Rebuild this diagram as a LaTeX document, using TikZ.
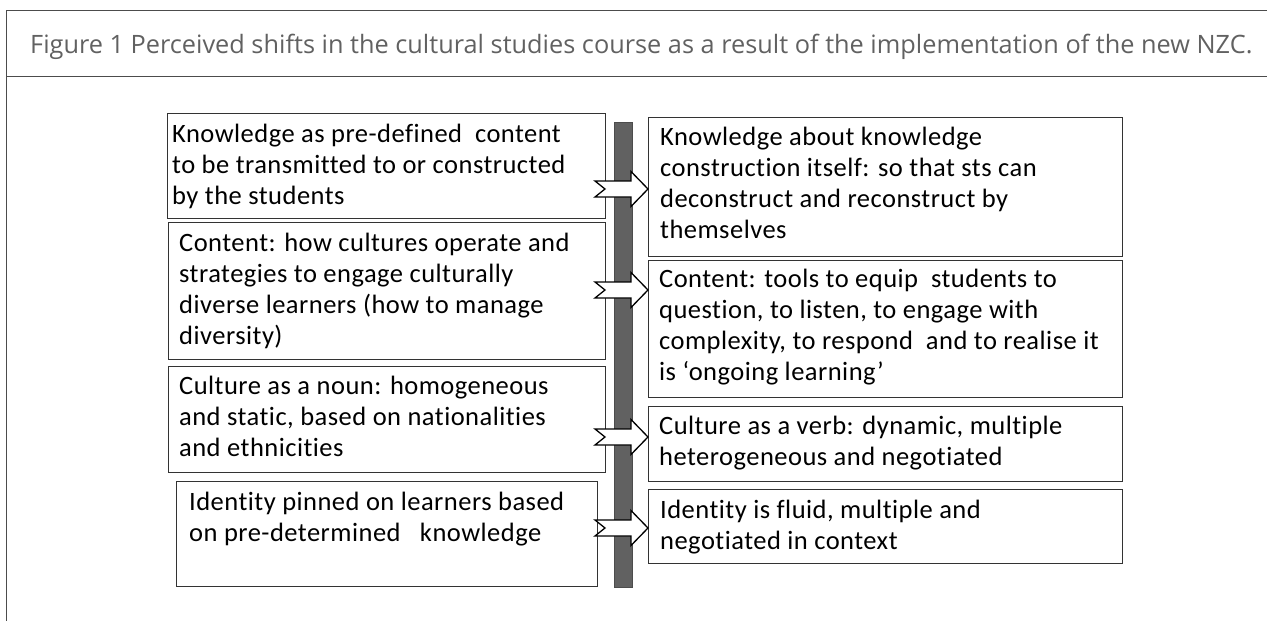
\documentclass[tikz,border=0pt]{standalone}
\usepackage{fontspec}
\setmainfont{Carlito}[Ligatures=NoCommon, LetterSpace=1.8]
\newfontfamily\capfont{Open Sans}
\usetikzlibrary{calc}
\begin{document}
\begin{tikzpicture}[x=1pt,y=-1pt,
  frameline/.style={draw=black!70, line width=1.3pt},
  box/.style={draw=black!80, line width=1.3pt, fill=white, inner sep=0pt, anchor=north west},
  boxtext/.style={anchor=base west, inner sep=0pt, font=\fontsize{26.5}{31.2}\selectfont},
  shiftarrow/.pic={\draw[line width=1.3pt, fill=white, line join=miter]
      (0,0) -- ++(-17,-17.5) -- ++(0,9.5) -- ++(-36,0) -- ++(10,8)
      -- ++(-10,8) -- ++(36,0) -- ++(0,9.5) -- cycle;}
]
\useasboundingbox (0,0) rectangle (1267,621);
% frame
\draw[frameline] (6.5,621) -- (6.5,10.5) -- (1267,10.5);
\draw[frameline] (6.5,76.5) -- (1267,76.5);
\node[anchor=base west, inner sep=0pt, text=black!62,
      font=\capfont\fontsize{25.3}{30}\selectfont] (cap) at (30,53.5)
  {Figure 1 Perceived shifts in the cultural studies course as a result of the implementation of the new NZC.};
% central bar
\node[fill=black!62, draw=black!70, line width=0.6pt, minimum width=18pt,
      minimum height=465pt, anchor=north west, inner sep=0pt] (bar) at (614,122) {};
% left boxes
\node[box, minimum width=438pt, minimum height=105pt] (l1) at (167,113) {};
\node[box, minimum width=437pt, minimum height=137pt] (l2) at (168,222) {};
\node[box, minimum width=437pt, minimum height=106pt] (l3) at (168,366) {};
\node[box, minimum width=421pt, minimum height=105pt] (l4) at (176,481) {};
% right boxes
\node[box, minimum width=474pt, minimum height=139pt] (r1) at (648,117) {};
\node[box, minimum width=474pt, minimum height=137pt] (r2) at (648,260) {};
\node[box, minimum width=474pt, minimum height=75pt] (r3) at (648,406) {};
\node[box, minimum width=474pt, minimum height=74pt] (r4) at (648,489) {};
% texts
\node[boxtext] (l1t) at ($(l1.north west)+(5,29)$) {\parbox[t]{460pt}{Knowledge as pre-defined \ content\\to be transmitted to or constructed\\by the students}};
\node[boxtext] (l2t) at ($(l2.north west)+(11,29)$) {\parbox[t]{460pt}{Content: how cultures operate and\\strategies to engage culturally\\diverse learners (how to manage\\diversity)}};
\node[boxtext] (l3t) at ($(l3.north west)+(11,28)$) {\parbox[t]{460pt}{Culture as a noun: homogeneous\\and static, based on nationalities\\and ethnicities}};
\node[boxtext] (l4t) at ($(l4.north west)+(13,29)$) {\parbox[t]{460pt}{Identity pinned on learners based\\on pre-determined \ \ knowledge}};
\node[boxtext] (r1t) at ($(r1.north west)+(12,28)$) {\parbox[t]{460pt}{Knowledge about knowledge\\construction itself: so that sts can\\deconstruct and reconstruct by\\themselves}};
\node[boxtext] (r2t) at ($(r2.north west)+(11,27)$) {\parbox[t]{460pt}{Content: tools to equip \ students to\\question, to listen, to engage with\\complexity, to respond \ and to realise it\\is ‘ongoing learning’}};
\node[boxtext] (r3t) at ($(r3.north west)+(11,28)$) {\parbox[t]{460pt}{Culture as a verb: dynamic, multiple\\heterogeneous and negotiated}};
\node[boxtext] (r4t) at ($(r4.north west)+(12,29)$) {\parbox[t]{460pt}{Identity is fluid, multiple and\\negotiated in context}};
% arrows from left to right boxes
\pic at (r1.west |- 0,189) {shiftarrow};
\pic at (r2.west |- 0,290) {shiftarrow};
\pic at (r3.west |- 0,437) {shiftarrow};
\pic at (r4.west |- 0,528) {shiftarrow};
\end{tikzpicture}
\end{document}
